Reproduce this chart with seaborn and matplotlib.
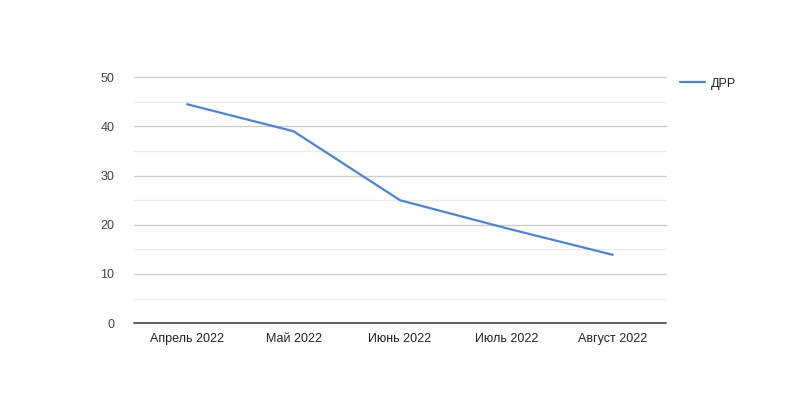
import matplotlib
matplotlib.use("Agg")
import matplotlib.pyplot as plt
import seaborn as sns
import pandas as pd

months = ["Апрель 2022", "Май 2022", "Июнь 2022", "Июль 2022", "Август 2022"]
drr = [44.5, 39.0, 25.0, 19.3, 13.9]
series_name = "ДРР"

sns.set_style("white")
plt.rcParams['font.family'] = ['Liberation Sans', 'DejaVu Sans']

df = pd.DataFrame({"month": months, "value": drr})

fig = plt.figure(figsize=(8, 4), dpi=100)
ax = fig.add_axes([0.1675, 0.192, 0.665, 0.615])

for y in range(5, 50, 10):
    ax.axhline(y, color="#ebebeb", lw=1, zorder=0)
for y in range(10, 51, 10):
    ax.axhline(y, color="#cccccc", lw=1, zorder=0, clip_on=False)
ax.axhline(0, color="#333333", lw=1.1, zorder=3, clip_on=False)

sns.lineplot(data=df, x="month", y="value", ax=ax, color="#4a84dc", lw=1.6,
             label=series_name, sort=False)

ax.set_xlim(-0.5, 4.5)
ax.set_ylim(0, 50)
ax.set_yticks(range(0, 51, 10))
ax.set_xlabel("")
ax.set_ylabel("")
for s in ax.spines.values():
    s.set_visible(False)
ax.tick_params(axis="both", length=0, labelsize=9, colors="#444444")
ax.tick_params(axis="y", pad=14)
ax.tick_params(axis="x", pad=7, labelcolor="#222222")

leg = ax.legend(loc="upper left", bbox_to_anchor=(1.01, 1.033), frameon=False,
                fontsize=9, handlelength=2.0, handletextpad=0.5, borderaxespad=0.3)
for t in leg.get_texts():
    t.set_color("#222222")

fig.savefig("out.png", dpi=100, facecolor="white")
